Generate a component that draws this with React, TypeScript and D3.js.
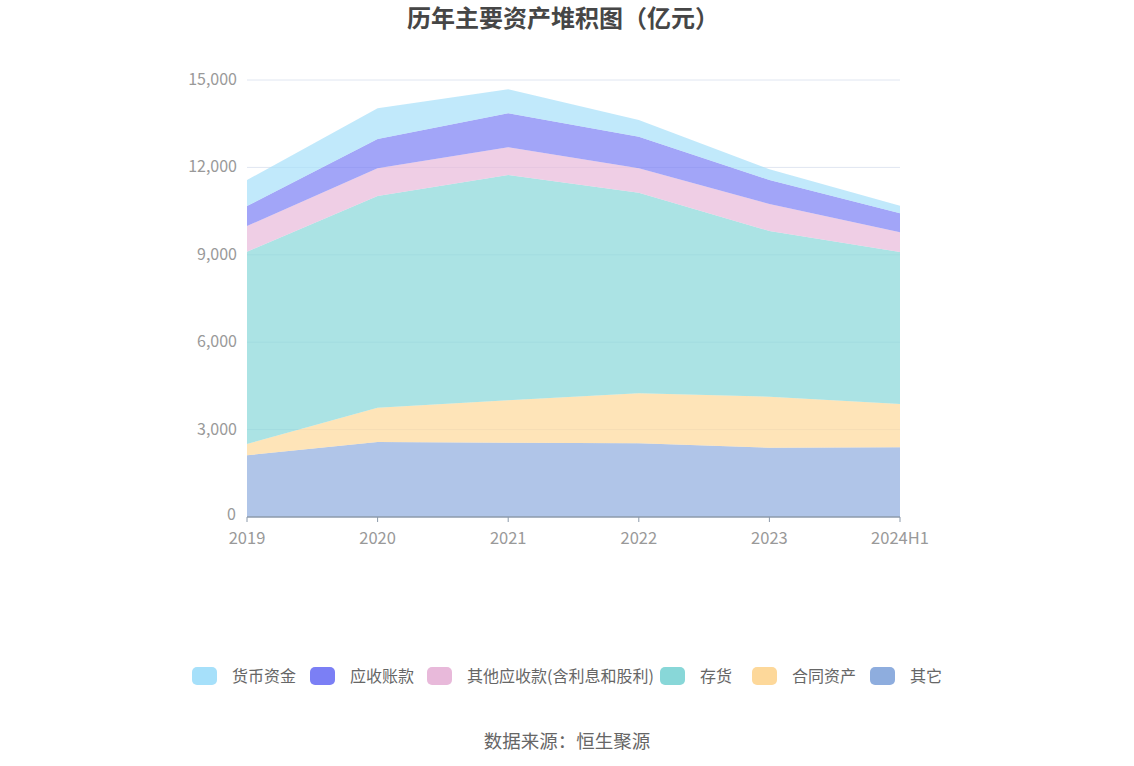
import React from "react";
import * as d3 from "d3";

const years = ["2019", "2020", "2021", "2022", "2023", "2024H1"];
const cash = [893, 1054, 824, 573, 367, 262];
const receivables = [686, 1006, 1167, 1085, 824, 653];
const otherReceivables = [882, 951, 951, 837, 927, 675];
const inventory = [6601, 7266, 7734, 6887, 5687, 5217];
const contractAssets = [388, 1178, 1454, 1716, 1750, 1487];
const others = [2118, 2574, 2551, 2529, 2380, 2392];
const yTicks = [0, 3000, 6000, 9000, 12000, 15000];

// bottom to top stacking order
const series = [
  { name: "其它", values: others, color: "#8eadde" },
  { name: "合同资产", values: contractAssets, color: "#fdd89a" },
  { name: "存货", values: inventory, color: "#88d7d8" },
  { name: "其他应收款(含利息和股利)", values: otherReceivables, color: "#e8b9da" },
  { name: "应收账款", values: receivables, color: "#7b7ff5" },
  { name: "货币资金", values: cash, color: "#a6e0fa" },
];

const legendOrder = [...series].reverse();
const legendX = [192, 310, 427, 660, 752, 870];

const W = 1134;
const H = 766;
const left = 247;
const right = 900;
const top = 80;
const bottom = 517;

export default function App() {
  const x = d3.scalePoint<string>().domain(years).range([left, right]);
  const y = d3.scaleLinear().domain([0, 15000]).range([bottom, top]);

  const rows = years.map((yr, i) => {
    const r: Record<string, number | string> = { year: yr };
    series.forEach((s) => (r[s.name] = s.values[i]));
    return r;
  });
  const stacked = d3.stack<any>().keys(series.map((s) => s.name))(rows);

  const area = d3
    .area<any>()
    .x((d) => x(d.data.year) as number)
    .y0((d) => y(d[0]))
    .y1((d) => y(d[1]));

  const font = "'Noto Sans CJK SC', 'Noto Sans', sans-serif";

  return (
    <svg width={W} height={H} style={{ position: "absolute", left: 0, top: 0, fontFamily: font }}>
      <text x={563} y={27} textAnchor="middle" fontSize={24} fontWeight="bold" fill="#464646">
        历年主要资产堆积图（亿元）
      </text>

      {yTicks.map((t) => (
        <g key={t}>
          {t > 0 && <line x1={left} x2={right} y1={y(t)} y2={y(t)} stroke="#e0e6f1" />}
          <text x={t === 0 ? 236 : 237} y={y(t) + (t === 0 ? 3 : 5)} textAnchor="end" fontSize={16} fill="#999">
            {d3.format(",")(t)}
          </text>
        </g>
      ))}

      {stacked.map((layer, i) => (
        <path key={layer.key} d={area(layer) ?? ""} fill={series[i].color} fillOpacity={0.7} />
      ))}

      <line x1={left} x2={right} y1={bottom} y2={bottom} stroke="#8c9aab" strokeWidth={1.5} />
      {years.map((yr) => (
        <g key={yr}>
          <line x1={x(yr)} x2={x(yr)} y1={bottom} y2={bottom + 5} stroke="#8c9aab" />
          <text x={x(yr)} y={544} textAnchor="middle" fontSize={16.5} fill="#999">
            {yr}
          </text>
        </g>
      ))}

      {legendOrder.map((s, i) => (
        <g key={s.name} transform={`translate(${legendX[i]},667)`}>
          <rect width={25} height={18} rx={5} fill={s.color} />
          <text x={40} y={15} fontSize={16} fill="#666">
            {s.name}
          </text>
        </g>
      ))}

      <text x={567} y={748} textAnchor="middle" fontSize={18.5} fill="#666">
        数据来源：恒生聚源
      </text>
    </svg>
  );
}
